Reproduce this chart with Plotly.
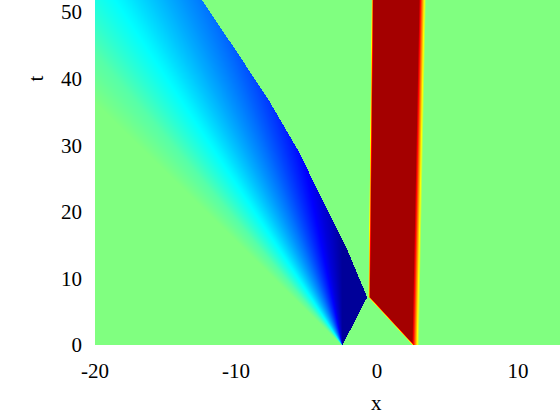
import numpy as np
import plotly.graph_objects as go

# ---- data ----
x_range = [-20, 12.98]
t_range = [0, 51.8]

x_tickvals = [-20, -10, 0, 10]
x_ticktext = ["-20", "-10", "0", "10"]
t_tickvals = [0, 10, 20, 30, 40, 50]
t_ticktext = ["0", "10", "20", "30", "40", "50"]

# rarefaction fan (blue): value as a function of ray speed (x - x0)/t
fan_origin = -2.5
fan_speed = [-0.48, -0.40, -0.30, -0.19, -0.07, 0.0]
fan_value = [0.0, -0.08, -0.27, -0.52, -0.82, -0.95]

# shock bounding the blue region on the right
shock_t = [0.0, 7.25, 14.3, 21.8, 29.0, 36.8, 44.0, 51.8]
shock_x = [-2.5, -0.73, -2.13, -3.9, -5.55, -7.7, -9.95, -12.43]

# red plateau
red_value = 0.93
red_left_t = [0.0, 7.25, 51.8]
red_left_x = [2.5, -0.66, -0.43]
red_right_t = [0.0, 51.8]
red_right_x = [2.45, 2.95]
red_right_fringe = 0.5
red_left_fringe = 0.15

# ---- build the field on a grid ----
xg = np.linspace(x_range[0], x_range[1], 466)
tg = np.linspace(t_range[0], t_range[1], 346)
X, T = np.meshgrid(xg, tg)
S = (X - fan_origin) / np.maximum(T, 1e-6)
fan = np.interp(S.ravel(), fan_speed, fan_value).reshape(S.shape)
shock = np.interp(T.ravel(), shock_t, shock_x).reshape(T.shape)
z = np.where(X < shock, fan, 0.0)

left = np.interp(T.ravel(), red_left_t, red_left_x).reshape(T.shape)
right = np.interp(T.ravel(), red_right_t, red_right_x).reshape(T.shape)
ramp_l = np.clip((X - left) / red_left_fringe, 0, 1)
ramp_r = np.clip((right + red_right_fringe - X) / red_right_fringe, 0, 1)
red = red_value * np.minimum(ramp_l, ramp_r)
z = np.where(red > 0, red, z)
z = np.round(z, 3)

jet = [[0.0, "#000080"], [0.125, "#0000ff"], [0.375, "#00ffff"],
       [0.625, "#ffff00"], [0.875, "#ff0000"], [1.0, "#800000"]]

fig = go.Figure(go.Heatmap(x=xg, y=tg, z=z, colorscale=jet, zmin=-1, zmax=1,
                           showscale=False, hoverinfo="skip"))

font = dict(family="Liberation Serif, DejaVu Serif, serif", size=21, color="black")
fig.update_layout(
    width=560, height=420,
    margin=dict(l=95, r=0, t=0, b=75),
    paper_bgcolor="white", plot_bgcolor="white",
    font=font,
    xaxis=dict(range=x_range, tickvals=x_tickvals, ticktext=x_ticktext,
               showgrid=False, zeroline=False, showline=False, ticks="",
               ticklabelstandoff=11),
    yaxis=dict(range=t_range, tickvals=t_tickvals, ticktext=t_ticktext,
               showgrid=False, zeroline=False, showline=False, ticks="",
               ticklabelstandoff=12),
    annotations=[
        dict(text="x", x=0, xref="x", y=-0.168, yref="paper", showarrow=False,
             xanchor="center", yanchor="middle", font=font),
        dict(text="t", x=-0.127, xref="paper", y=40, yref="y", showarrow=False,
             xanchor="center", yanchor="middle", textangle=-90, font=font),
    ],
)
fig.write_html(
    "out.html",
    config={"displayModeBar": False, "staticPlot": True},
    post_script="document.documentElement.style.margin='0';"
                "document.body.style.margin='0';"
                "document.body.style.overflow='hidden';",
)
